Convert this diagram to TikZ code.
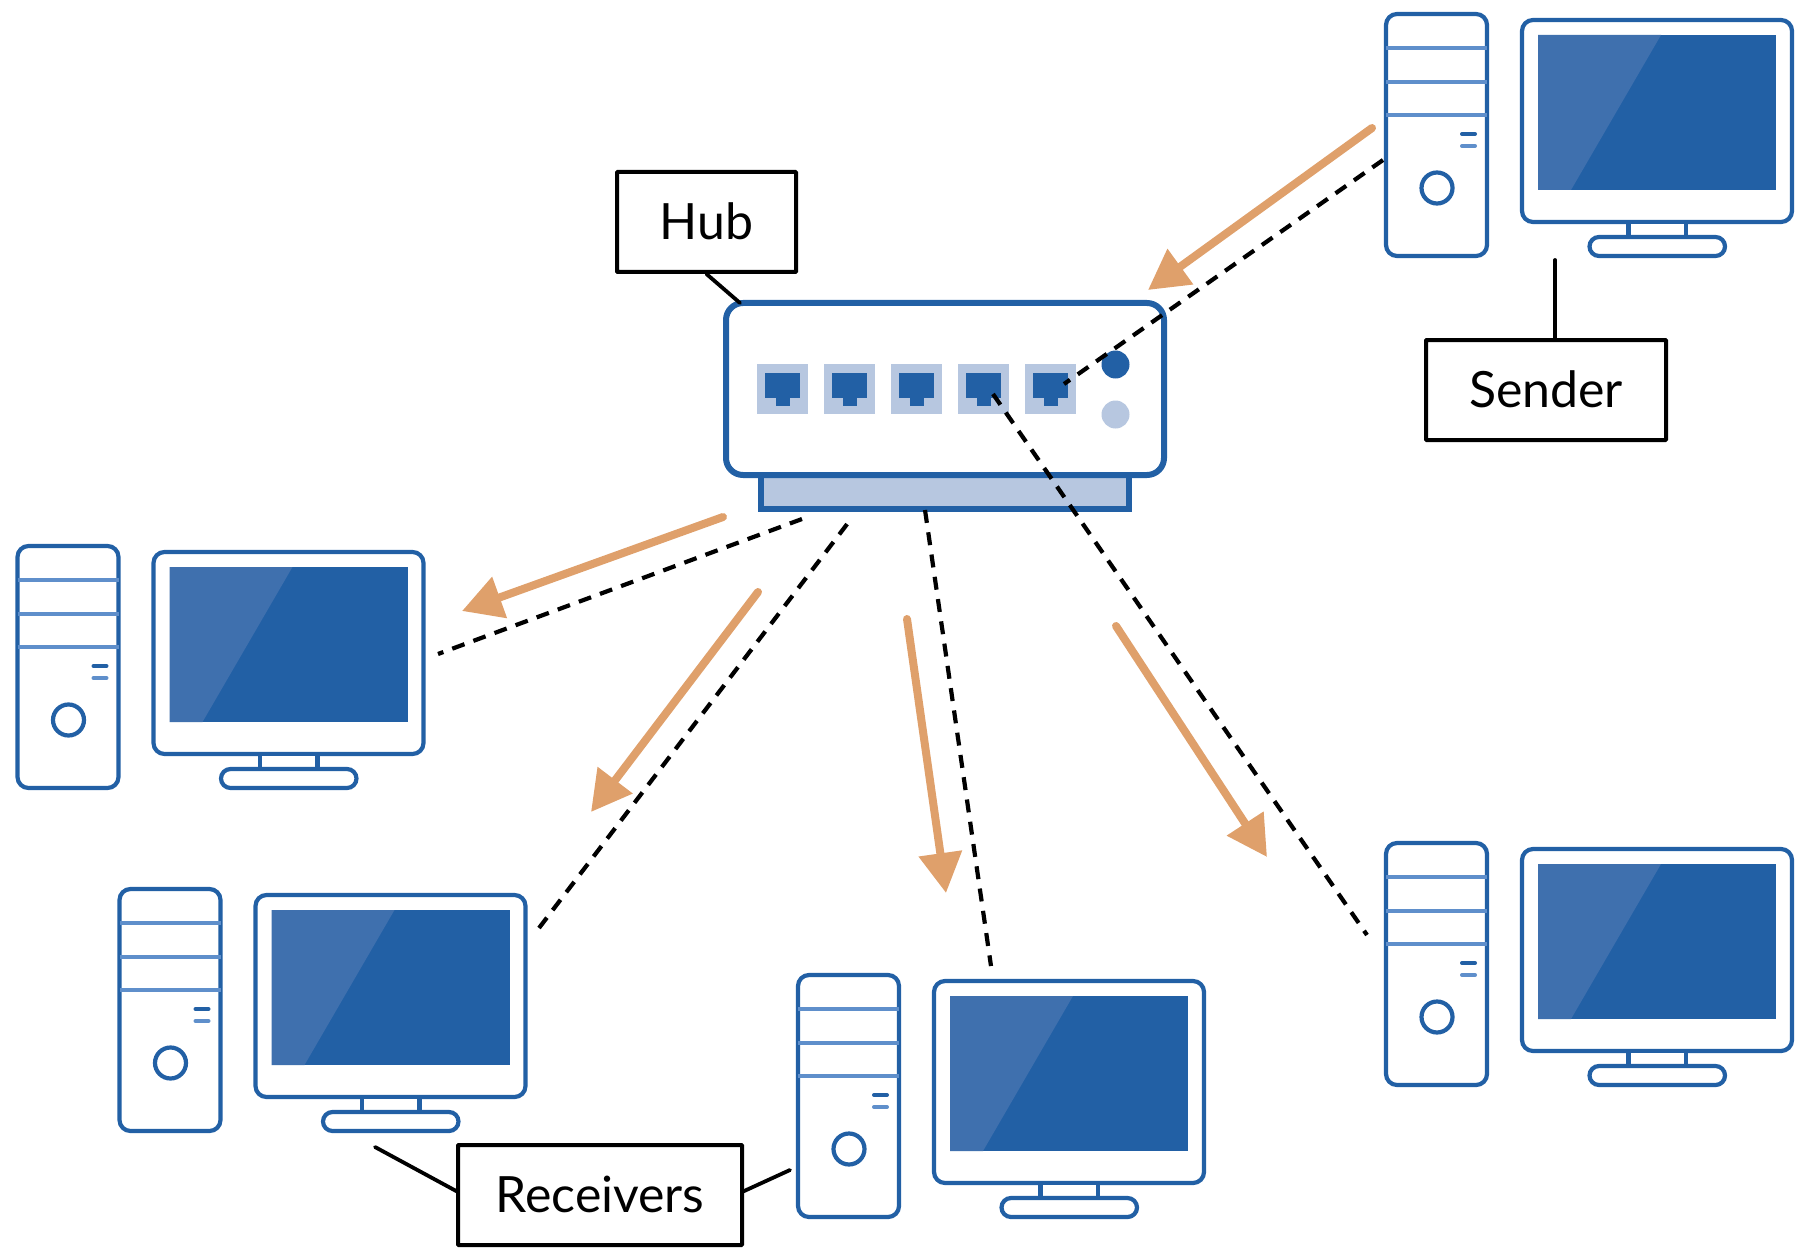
\documentclass[tikz,border=0pt]{standalone}
\usepackage{fontspec}
\setmainfont{Lato}
\usetikzlibrary{arrows.meta}
\definecolor{hubblue}{HTML}{2260A5}
\definecolor{stripeblue}{HTML}{5F8FCB}
\definecolor{glare}{HTML}{3F70AE}
\definecolor{pale}{HTML}{B7C7E0}
\definecolor{flow}{HTML}{DFA06B}
\newcommand{\lift}[1]{\raisebox{1.5pt}{#1}}
\tikzset{
  outline/.style={draw=hubblue,line width=4.2pt,fill=white},
  stripe/.style={draw=stripeblue,line width=4.2pt},
  labelbox/.style={draw=black,line width=4pt,fill=white,inner sep=0pt,font=\fontsize{50}{50}\selectfont,text=black,rounded corners=0.8pt},
  leader/.style={draw=black,line width=3.8pt,line cap=round},
  signal/.style={draw=black,line width=4.2pt,dash pattern=on 13pt off 9.5pt},
  flowarrow/.style={draw=flow,line width=8pt,line cap=round,-{Triangle[length=40pt,width=42pt,fill=flow]}},
  port/.style={fill=pale,draw=none},
  plug/.style={fill=hubblue,draw=none},
  pics/computer/.style={code={
    \draw[outline,rounded corners=11pt] (1386,14) rectangle (1487,256);
    \draw[stripe] (1386,48) -- (1487,48);
    \draw[stripe] (1386,82) -- (1487,82);
    \draw[stripe] (1386,115) -- (1487,115);
    \draw[draw=hubblue,line width=4pt,line cap=round] (1462,134) -- (1475,134);
    \draw[draw=stripeblue,line width=4pt,line cap=round] (1462,146) -- (1475,146);
    \draw[outline] (1437,188) circle[radius=15.5];
    \draw[outline,rounded corners=11pt] (1522,20) rectangle (1792,222);
    \fill[hubblue] (1538,35) rectangle (1776,190);
    \fill[glare] (1538,35) -- (1661,35) -- (1571,190) -- (1538,190) -- cycle;
    \draw[outline] (1628.5,222) rectangle (1686,238);
    \draw[outline,rounded corners=9.5pt] (1589.5,237) rectangle (1725,256);
  }}
}
\begin{document}
\begin{tikzpicture}[x=1pt,y=-1pt]
\useasboundingbox (0,0) rectangle (1812,1257);
% computers
\pic at (0,0) {computer};
\pic at (-1368.5,532) {computer};
\pic at (-1266.5,875) {computer};
\pic at (-588,961) {computer};
\pic at (0,829) {computer};
% hub
\draw[draw=hubblue,line width=6pt,fill=pale] (760.5,470) rectangle (1129,509);
\node[draw=hubblue,line width=6pt,fill=white,rounded corners=17pt,minimum width=438pt,minimum height=172pt,inner sep=0pt] (hub) at (945,389) {};
\foreach \i/\x in {0/757,1/824,2/891,3/958,4/1025}{
  \fill[port] (\x,364) rectangle ++(51,50);
  \fill[plug] (\x+8,373) rectangle ++(35,25);
  \fill[plug] (\x+18.5,398) rectangle ++(14,8);
}
\fill[hubblue] (1115.5,364.5) circle[radius=14];
\fill[pale] (1115.5,414.5) circle[radius=14];
% labels
\node[labelbox,minimum width=179pt,minimum height=100pt] (hublabel) at (706.5,222) {\lift{Hub}};
\node[labelbox,minimum width=240pt,minimum height=100pt] (senderlabel) at (1546,390) {\lift{Sender}};
\node[labelbox,minimum width=284pt,minimum height=100pt] (receiverlabel) at (600,1195) {\lift{Receivers}};
% leader ends
\coordinate (hubcorner) at (740,303);
\coordinate (sendermon) at (1555,260);
\coordinate (sendertop) at (1555,340);
\coordinate (recvA) at (375,1147);
\coordinate (recvAend) at (458,1192);
\coordinate (recvB) at (790,1170);
\coordinate (recvBend) at (742,1192);
\draw[leader] (hublabel.south) -- (hubcorner);
\draw[leader] (sendermon) -- (sendertop);
\draw[leader] (recvA) -- (recvAend);
\draw[leader] (recvB) -- (recvBend);
% signal paths
\coordinate (s1a) at (1383,160);
\coordinate (s1b) at (1064,384);
\coordinate (s2a) at (802,519);
\coordinate (s2b) at (438,654);
\coordinate (s3a) at (851,519);
\coordinate (s3b) at (539,928);
\coordinate (s4a) at (925,510);
\coordinate (s4b) at (991,966);
\coordinate (s5a) at (993,394);
\coordinate (s5b) at (1367,935);
\draw[signal] (s1a) -- (s1b);
\draw[signal] (s2a) -- (s2b);
\draw[signal] (s3b) -- (s3a);
\draw[signal] (s4a) -- (s4b);
\draw[signal] (s5a) -- (s5b);
% flow arrows
\coordinate (f1a) at (1372,128);
\coordinate (f1b) at (1148,290);
\coordinate (f2a) at (723,517);
\coordinate (f2b) at (462,611);
\coordinate (f3a) at (758,592);
\coordinate (f3b) at (591,812);
\coordinate (f4a) at (907,619);
\coordinate (f4b) at (946,893);
\coordinate (f5a) at (1116,626);
\coordinate (f5b) at (1267,857);
\draw[flowarrow] (f1a) -- (f1b);
\draw[flowarrow] (f2a) -- (f2b);
\draw[flowarrow] (f3a) -- (f3b);
\draw[flowarrow] (f4a) -- (f4b);
\draw[flowarrow] (f5a) -- (f5b);
\end{tikzpicture}
\end{document}
